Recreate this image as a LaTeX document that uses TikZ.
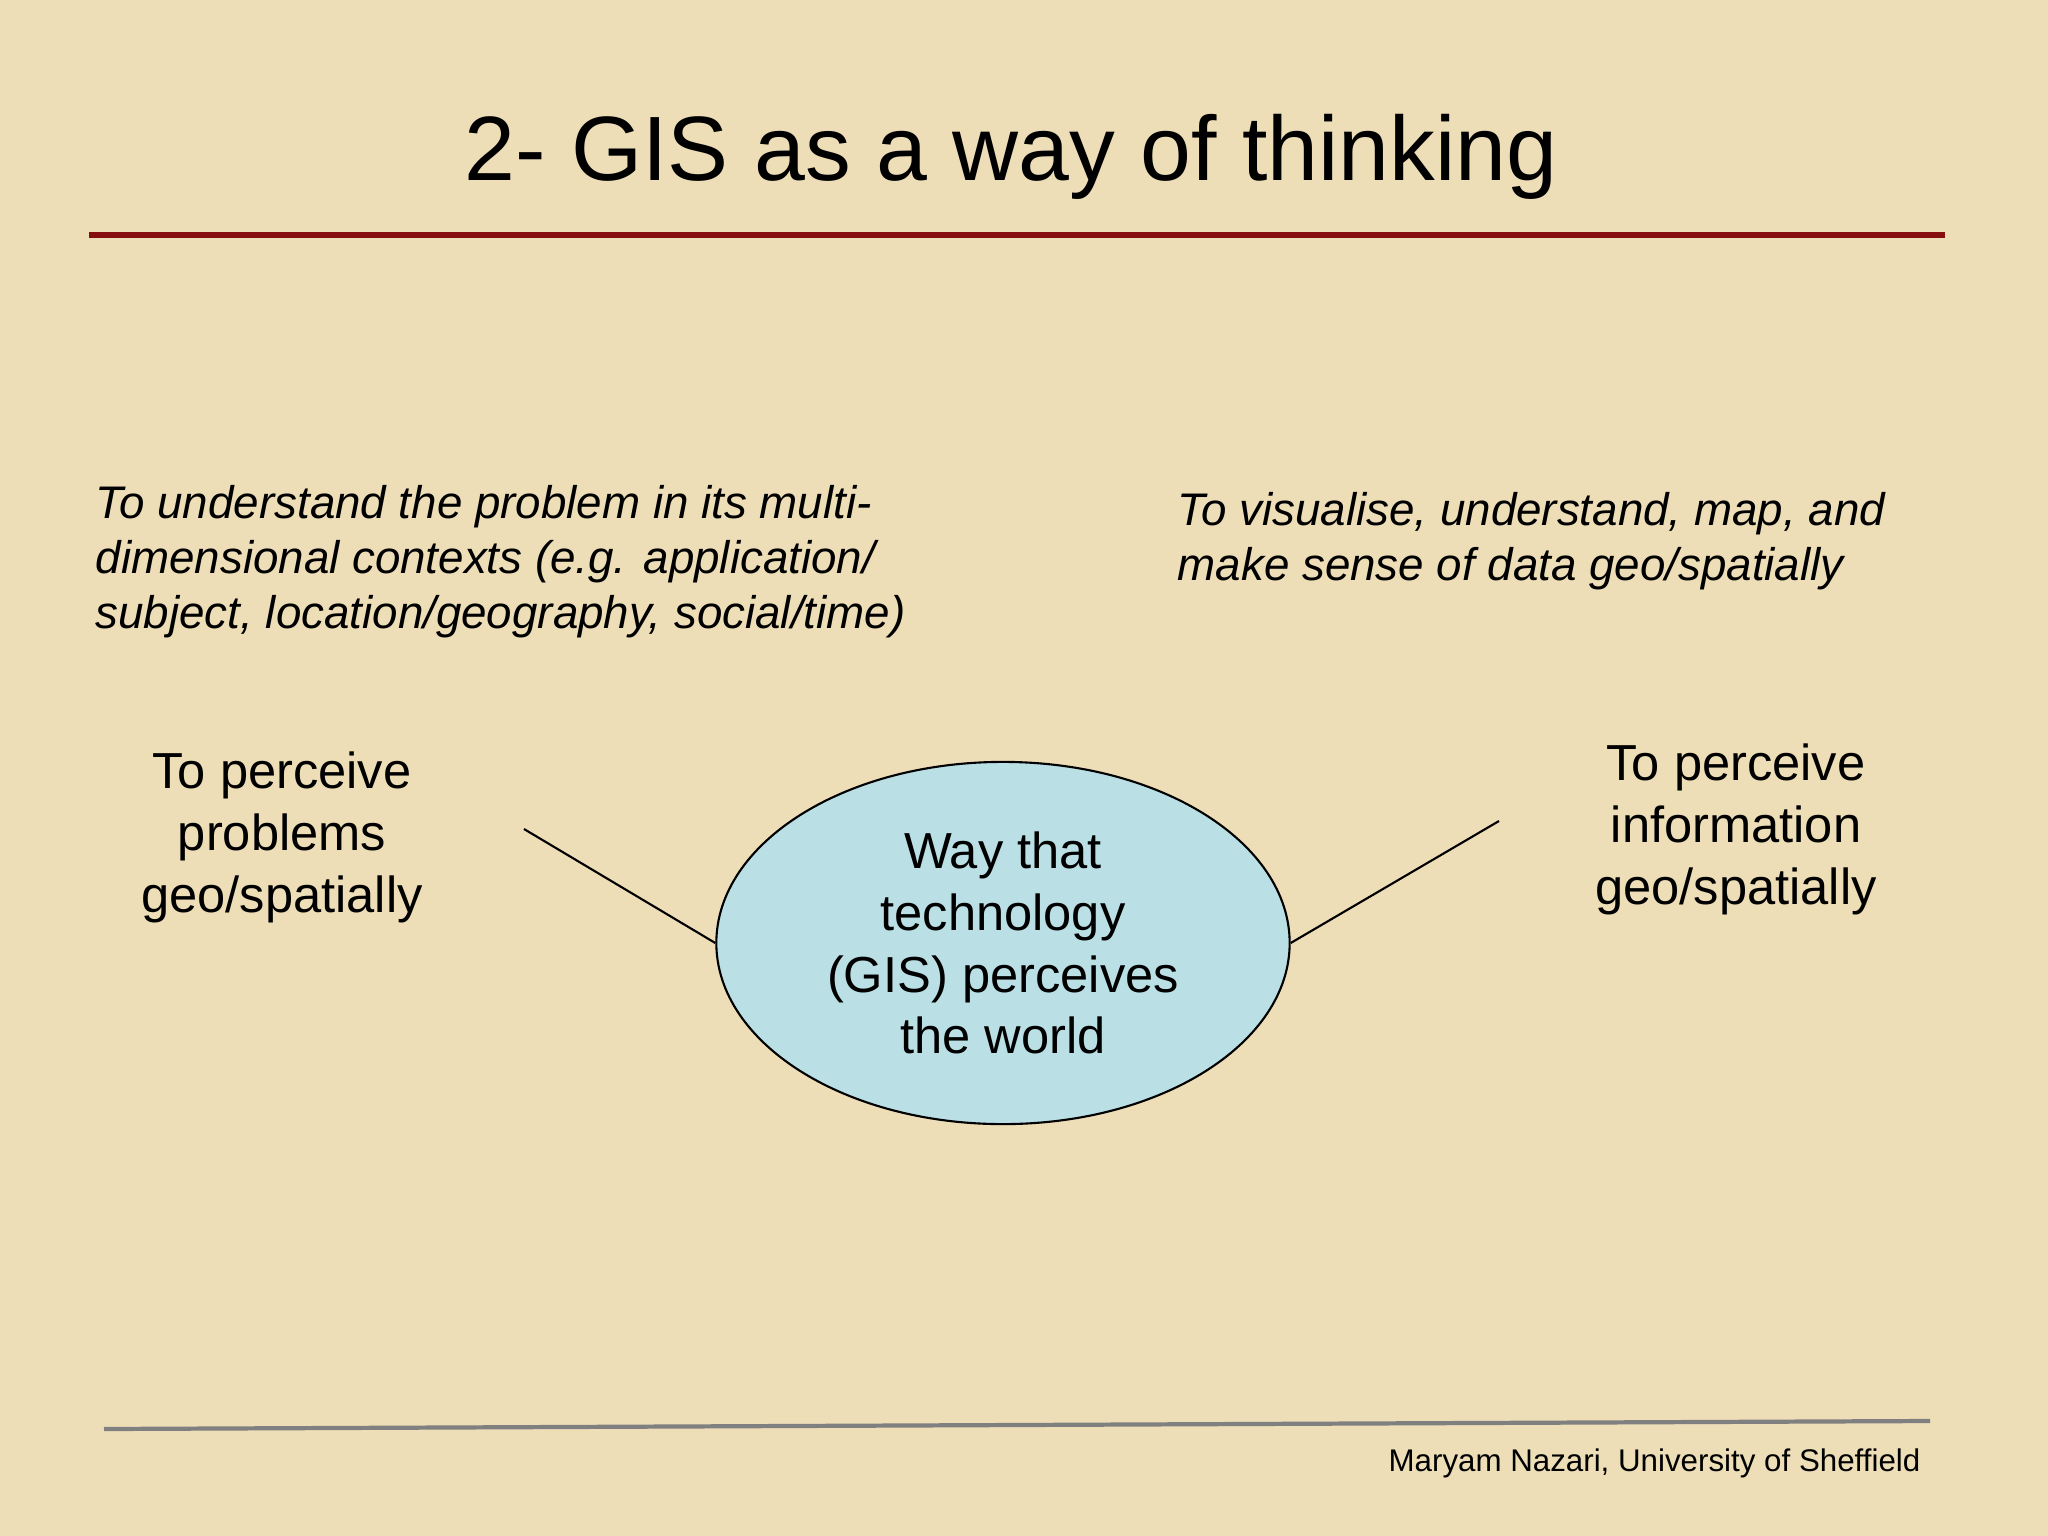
\documentclass[tikz,border=0pt]{standalone}
\usepackage{fontspec}
\setmainfont{Liberation Sans}
\usetikzlibrary{shapes.geometric}

\definecolor{paper}{RGB}{237,222,184}
\definecolor{titlerule}{RGB}{135,14,14}
\definecolor{footrule}{RGB}{128,128,128}
\definecolor{bubble}{RGB}{186,224,230}

\begin{document}
\begin{tikzpicture}[x=0.01cm, y=-0.01cm,
		idea/.style={inner sep=0, anchor=base, align=center, font=\fontsize{14.4}{17.5}\selectfont},
		note/.style={inner sep=0, anchor=base west, align=left, font=\fontsize{13}{15.6}\selectfont\itshape},
		link/.style={line width=0.6pt}]

	% slide background
	\fill[paper] (0,0) rectangle (2048,1536);
	\useasboundingbox (0,0) rectangle (2048,1536);

	\node[inner sep=0, anchor=base west, font=\fontsize{26}{31}\selectfont] (title) at (464,180) {2- GIS as a way of thinking};
	\draw[titlerule, line width=1.7pt] (89,235) -- (1945,235);

	% anchored at the baseline of the last line
	\node[note] (context) at (95,628) {To understand the problem in its multi-\\dimensional contexts (e.g. application/\\subject, location/geography, social/time)};
	\node[note] (sense) at (1177,580) {To visualise, understand, map, and\\make sense of data geo/spatially};

	\node[idea] (problems) at (282,912) {To perceive\\problems\\geo/spatially};
	\node[idea] (information) at (1736,904) {To perceive\\information\\geo/spatially};

	\node[ellipse, draw, link, fill=bubble, inner sep=0, minimum width=5.73cm, minimum height=3.62cm,
		align=center, font=\fontsize{14.4}{17.6}\selectfont] (way) at (1003,943) {Way that\\technology\\(GIS) perceives\\the world};

	\coordinate (pl) at (524,829);
	\coordinate (pr) at (1499,821);
	\draw[link] (pl) -- (way.west);
	\draw[link] (pr) -- (way.east);

	% footer
	\draw[footrule, line width=1.2pt] (104,1429) -- (1930,1421);
	\node[inner sep=0, anchor=base east, font=\fontsize{8.9}{10.7}\selectfont] (author) at (1921,1471) {Maryam Nazari, University of Sheffield};
\end{tikzpicture}
\end{document}
